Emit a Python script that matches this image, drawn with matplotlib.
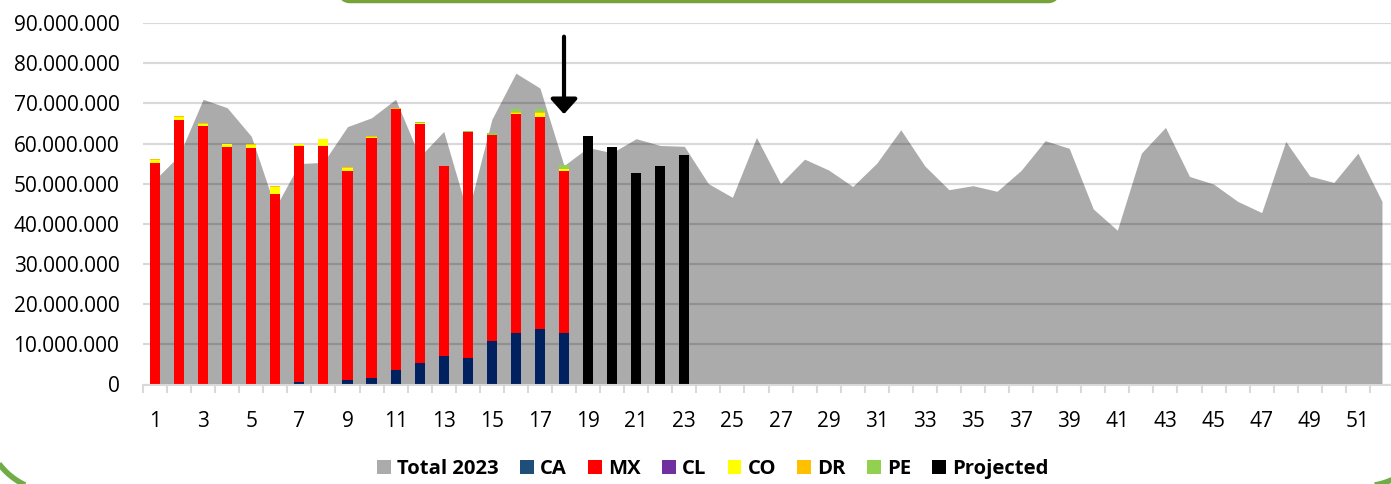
import matplotlib
matplotlib.use("Agg")
import matplotlib.pyplot as plt
import numpy as np
from matplotlib.patches import Patch
from matplotlib.lines import Line2D
from matplotlib.ticker import FuncFormatter, FixedLocator

# ---------------- data (values in millions) ----------------
weeks = list(range(1, 53))
total_2023 = [51.0, 57.0, 71.0, 68.9, 61.8, 44.0, 55.0, 55.3, 64.2, 66.4,
              71.0, 56.7, 63.0, 42.5, 66.0, 77.5, 73.8, 54.5, 59.0, 57.7,
              61.2, 59.5, 59.3, 50.0, 46.6, 61.5, 50.0, 56.1, 53.4, 49.3,
              55.1, 63.4, 54.4, 48.5, 49.5, 48.1, 53.3, 60.7, 58.8, 43.7,
              38.4, 57.6, 64.0, 51.8, 49.9, 45.6, 42.8, 60.5, 51.9, 50.3,
              57.6, 45.6]

bar_weeks = list(range(1, 19))
ca = [0, 0, 0, 0, 0, 0, 0.6, 0, 1.1, 1.7, 3.6, 5.3, 7.2, 6.7, 10.9, 12.9, 13.9, 12.9]
mx = [55.2, 65.9, 64.4, 59.2, 59.0, 47.5, 58.9, 59.5, 52.0, 59.7, 64.9, 59.6,
      47.3, 56.1, 51.2, 54.4, 52.6, 40.2]
cl = [0] * 18
co = [0.7, 0.6, 0.4, 0.6, 0.6, 1.6, 0.3, 1.5, 0.8, 0.2, 0.1, 0.1, 0, 0, 0, 0.3, 1.2, 0.5]
dr = [0.2, 0.4, 0.2, 0.2, 0.3, 0.2, 0.2, 0, 0.2, 0.2, 0.3, 0.1, 0, 0, 0, 0.2, 0.1, 0.1]
pe = [0, 0, 0, 0, 0, 0, 0, 0, 0, 0, 0, 0.2, 0, 0.3, 0.4, 0.7, 0.7, 0.9]

proj_weeks = [19, 20, 21, 22, 23]
projected = [61.8, 59.1, 52.6, 54.3, 57.1]

y_ticks = list(range(0, 91, 10))
x_labels = list(range(1, 52, 2))

series_names = ["CA", "MX", "CL", "CO", "DR", "PE"]
series_vals = [ca, mx, cl, co, dr, pe]
series_colors = ["#002060", "#FF0000", "#7030A0", "#FFFF00", "#FFC000", "#92D050"]
legend_colors = ["#1F4E79", "#FF0000", "#7030A0", "#FFFF00", "#FFC000", "#92D050"]

M = 1e6

# ---------------- figure ----------------
W, H = 1391, 484
fig = plt.figure(figsize=(W / 100, H / 100), dpi=100)
fig.patch.set_facecolor("white")

x_left, x_right = 143, 1394
y_top, y_bot = 23, 384.5
ax = fig.add_axes([x_left / W, 1 - y_bot / H, (x_right - x_left) / W, (y_bot - y_top) / H])

# area
ax.fill_between(weeks, np.array(total_2023) * M, color="#ABABAB", lw=0, zorder=1)

# stacked bars
bw = 0.42
bottom = np.zeros(len(bar_weeks))
for name, vals, col in zip(series_names, series_vals, series_colors):
    v = np.array(vals) * M
    ax.bar(bar_weeks, v, bottom=bottom, width=bw, color=col, lw=0, zorder=3)
    bottom += v
ax.bar(proj_weeks, np.array(projected) * M, width=bw, color="black", lw=0, zorder=3)

# arrow
ax.annotate("", xy=(18, 67.3 * M), xytext=(18, 86.6 * M),
            arrowprops=dict(arrowstyle="-|>,head_width=0.45,head_length=0.5",
                            lw=3, color="black", mutation_scale=18, shrinkA=0, shrinkB=0),
            zorder=5)

# axes styling
ax.set_xlim(0.5, 52.5)
ax.set_ylim(0, 90 * M)
ax.set_yticks(np.array(y_ticks) * M)
ax.yaxis.set_major_formatter(FuncFormatter(lambda v, p: f"{v:,.0f}".replace(",", ".")))
ax.set_axisbelow("line")
ax.yaxis.grid(True, color="black", alpha=0.15, lw=1.6)
ax.xaxis.grid(False)
for s in ["left", "top", "right"]:
    ax.spines[s].set_visible(False)
ax.spines["bottom"].set_color("#D9D9D9")
ax.spines["bottom"].set_linewidth(1.5)
ax.spines["bottom"].set_zorder(4)

ax.xaxis.set_major_locator(FixedLocator(x_labels))
ax.set_xticklabels([str(w) for w in x_labels])
ax.xaxis.set_minor_locator(FixedLocator(np.arange(0.5, 53, 1.0)))
ax.tick_params(axis="x", which="major", length=0, pad=19)
ax.tick_params(axis="x", which="minor", length=6, width=1.5, color="#D9D9D9")
ax.tick_params(axis="y", length=0, pad=17)
for lab in ax.get_xticklabels() + ax.get_yticklabels():
    lab.set_fontfamily("Open Sans")
    lab.set_fontsize(15)
    lab.set_color("black")

# legend
handles = [Patch(facecolor="#ABABAB", label="Total 2023")]
for name, col in zip(series_names, legend_colors):
    handles.append(Patch(facecolor=col, label=name))
handles.append(Patch(facecolor="black", label="Projected"))
leg = fig.legend(handles=handles, loc="center", bbox_to_anchor=(713 / W, 1 - 469 / H),
                 ncol=8, frameon=False, handlelength=0.68, handleheight=0.68,
                 handletextpad=0.3, columnspacing=1.05,
                 prop={"family": "Open Sans", "weight": "bold", "size": 14.6})

# decorative green frame pieces (image pixel coords -> figure fraction)
def frame_line(xs_img, ys_img, color, lw):
    xs = np.asarray(xs_img) / W
    ys = 1 - np.asarray(ys_img) / H
    fig.add_artist(Line2D(xs, ys, transform=fig.transFigure, color=color, lw=lw,
                          solid_capstyle="butt", clip_on=False))

def corner(cx, cy, r, a0, a1, n=40):
    t = np.radians(np.linspace(a0, a1, n))
    return cx + r * np.cos(t), cy + r * np.sin(t)

# top box bottom edge with rounded corners
r = 12
lx, ly = corner(338 + r, 1.5 - r, r, 180, 90)
rx, ry = corner(1060 - r, 1.5 - r, r, 90, 0)
frame_line(np.r_[338, lx, rx, 1060], np.r_[-30, ly, ry, -30], "#77A33A", 2.5)

# outer frame corners (bottom-left and bottom-right)
bx, by = corner(55, 421.7, 70, 180, 90)
frame_line(np.r_[-15, bx, 200], np.r_[300, by, 491.7], "#70AD47", 4)
bx2, by2 = corner(1363, 416, 70, 90, 0)
frame_line(np.r_[1200, bx2, 1433], np.r_[486, by2, 300], "#70AD47", 4)

fig.savefig("out.png", dpi=100)
